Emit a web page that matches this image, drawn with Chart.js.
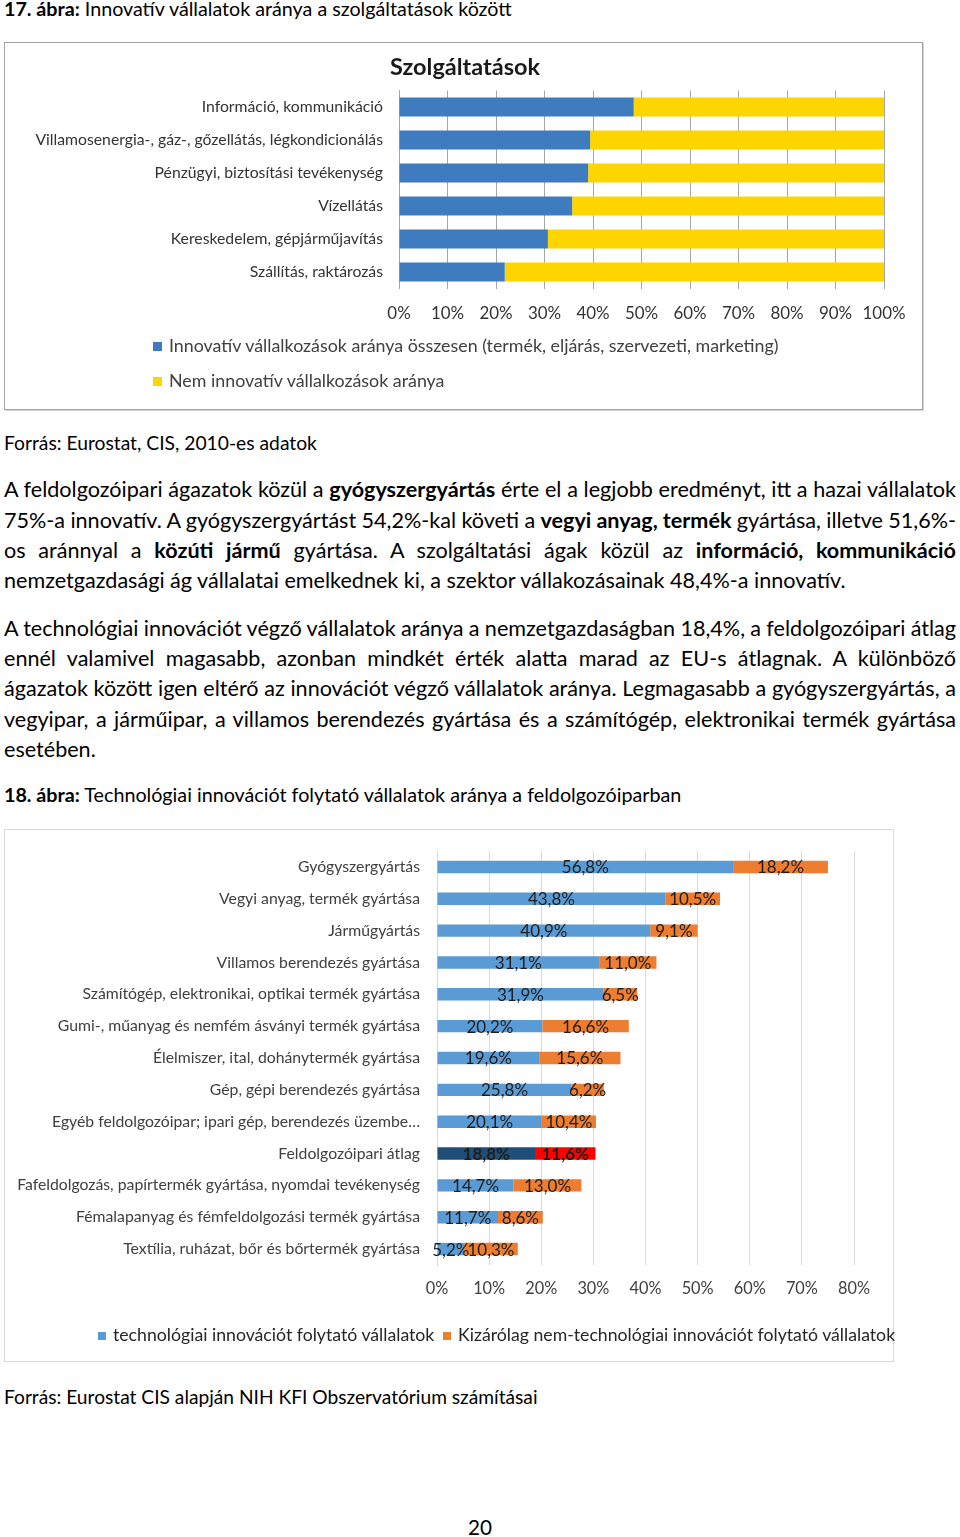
<!DOCTYPE html>
<html lang="hu"><head><meta charset="utf-8">
<script src="https://cdn.jsdelivr.net/npm/chart.js@4.4.1/dist/chart.umd.min.js"></script>
<style>
html,body{margin:0;padding:0;background:#fff;}
body{width:960px;height:1537px;position:relative;overflow:hidden;font-family:Lato,"Open Sans",sans-serif;color:#000;}
.t{position:absolute;left:4px;white-space:nowrap;line-height:30px;height:30px;}
.t b{font-weight:700;}
#box1{position:absolute;left:4px;top:42px;width:919px;height:368px;box-sizing:border-box;border:1px solid #A3A3A3;box-shadow:1px 1px 0 #D4D4D4;}
#box2{position:absolute;left:4px;top:829px;width:890px;height:533px;box-sizing:border-box;border:1px solid #D9D9D9;}
canvas{position:absolute;}
.leg{position:absolute;white-space:nowrap;color:#404040;line-height:20px;height:20px;}
.leg i{display:inline-block;vertical-align:middle;position:relative;top:-1px;}
</style></head>
<body>
<div class="t" id="cap1" style="top:-6.5px"><b>17. ábra:</b> Innovatív vállalatok aránya a szolgáltatások között</div>
<div id="box1"></div>
<canvas id="c1" width="916" height="365" style="left:5px;top:43px;width:916px;height:365px"></canvas>
<div id="leg1"></div>
<div class="t" id="src1" style="top:427.5px">Forrás: Eurostat, CIS, 2010-es adatok</div>

<div class="t pl j" style="top:473.5px">A feldolgozóipari ágazatok közül a <b>gyógyszergyártás</b> érte el a legjobb eredményt, itt a hazai vállalatok</div>
<div class="t pl j" style="top:504.5px">75%-a innovatív. A gyógyszergyártást 54,2%-kal követi a <b>vegyi anyag, termék</b> gyártása, illetve 51,6%-</div>
<div class="t pl j" style="top:534.5px">os aránnyal a <b>közúti jármű</b> gyártása. A szolgáltatási ágak közül az <b>információ, kommunikáció</b></div>
<div class="t pl" id="pref" style="top:564.5px">nemzetgazdasági ág vállalatai emelkednek ki, a szektor vállakozásainak 48,4%-a innovatív.</div>

<div class="t pl j" style="top:612.5px">A technológiai innovációt végző vállalatok aránya a nemzetgazdaságban 18,4%, a feldolgozóipari átlag</div>
<div class="t pl j" style="top:642.5px">ennél valamivel magasabb, azonban mindkét érték alatta marad az EU-s átlagnak. A különböző</div>
<div class="t pl j" style="top:672.5px">ágazatok között igen eltérő az innovációt végző vállalatok aránya. Legmagasabb a gyógyszergyártás, a</div>
<div class="t pl j" style="top:703.5px">vegyipar, a járműipar, a villamos berendezés gyártása és a számítógép, elektronikai termék gyártása</div>
<div class="t pl" style="top:733.5px">esetében.</div>

<div class="t" id="cap2" style="top:779.5px"><b>18. ábra:</b> Technológiai innovációt folytató vállalatok aránya a feldolgozóiparban</div>
<div id="box2"></div>
<canvas id="c2" width="888" height="530" style="left:5px;top:830px;width:888px;height:530px"></canvas>
<div id="leg2"></div>
<div class="t" id="src2" style="top:1381.5px">Forrás: Eurostat CIS alapján NIH KFI Obszervatórium számításai</div>
<div class="t" id="pnum" style="top:1511.5px;left:468px">20</div>

<script>
// ---------- Chart 1 data (17. ábra) ----------
const c1Title = 'Szolgáltatások';
const c1Categories = [
  'Információ, kommunikáció',
  'Villamosenergia-, gáz-, gőzellátás, légkondicionálás',
  'Pénzügyi, biztosítási tevékenység',
  'Vízellátás',
  'Kereskedelem, gépjárműjavítás',
  'Szállítás, raktározás'
];
const c1SeriesNames = [
  'Innovatív vállalkozások aránya összesen (termék, eljárás, szervezeti, marketing)',
  'Nem innovatív vállalkozások aránya'
];
const c1Innovative = [48.4, 39.4, 39.0, 35.7, 30.7, 21.8];
const c1NonInnovative = [51.6, 60.6, 61.0, 64.3, 69.3, 78.2];
const c1TickValues = [0, 10, 20, 30, 40, 50, 60, 70, 80, 90, 100];

// ---------- Chart 2 data (18. ábra) ----------
const c2Categories = [
  'Gyógyszergyártás',
  'Vegyi anyag, termék gyártása',
  'Járműgyártás',
  'Villamos berendezés gyártása',
  'Számítógép, elektronikai, optikai termék gyártása',
  'Gumi-, műanyag és nemfém ásványi termék gyártása',
  'Élelmiszer, ital, dohánytermék gyártása',
  'Gép, gépi berendezés gyártása',
  'Egyéb feldolgozóipar; ipari gép, berendezés üzembe…',
  'Feldolgozóipari átlag',
  'Fafeldolgozás, papírtermék gyártása, nyomdai tevékenység',
  'Fémalapanyag és fémfeldolgozási termék gyártása',
  'Textília, ruházat, bőr és bőrtermék gyártása'
];
const c2SeriesNames = [
  'technológiai innovációt folytató vállalatok',
  'Kizárólag nem-technológiai innovációt folytató vállalatok'
];
const c2Technological = [56.8, 43.8, 40.9, 31.1, 31.9, 20.2, 19.6, 25.8, 20.1, 18.8, 14.7, 11.7, 5.2];
const c2NonTechnological = [18.2, 10.5, 9.1, 11.0, 6.5, 16.6, 15.6, 6.2, 10.4, 11.6, 13.0, 8.6, 10.3];
const c2TickValues = [0, 10, 20, 30, 40, 50, 60, 70, 80];
const c2HighlightCategory = 'Feldolgozóipari átlag';

// ---------- colours ----------
const C1_BLUE = '#3F7CBF', C1_YELLOW = '#FFD500';
const C2_BLUE = '#5B9BD5', C2_ORANGE = '#ED7D31', C2_AVG_BLUE = '#1F4E79', C2_AVG_RED = '#FF0000';

// ---------- font fitting helpers ----------
const FONT = 'Lato';
const mc = document.createElement('canvas').getContext('2d');
function fitSize(text, weight, target) {
  mc.font = weight + ' 100px ' + FONT;
  return 100 * target / mc.measureText(text).width;
}
function fitEl(el, target) {
  el.style.fontSize = '20px';
  const w = el.getBoundingClientRect().width;
  const s = 20 * target / w;
  el.style.fontSize = s + 'px';
  return s;
}

// ---------- page text ----------
fitEl(document.getElementById('cap1'), 508);
fitEl(document.getElementById('src1'), 313);
fitEl(document.getElementById('cap2'), 678);
fitEl(document.getElementById('src2'), 534);
fitEl(document.getElementById('pnum'), 24);
const pSize = fitEl(document.getElementById('pref'), 842);
document.querySelectorAll('.pl').forEach(el => { el.style.fontSize = pSize + 'px'; });
document.querySelectorAll('.j').forEach(el => {
  const w = el.getBoundingClientRect().width;
  const spaces = (el.textContent.match(/ /g) || []).length;
  el.style.wordSpacing = ((952 - w) / spaces) + 'px';
});

// ---------- Chart 1 ----------
const f1Label = fitSize(c1Categories[1], '400', 348);
const f1Title = fitSize(c1Title, '700', 150);
const f1Tick = fitSize('100%', '400', 43);
const f1Leg = fitSize(c1SeriesNames[0], '400', 611);
// geometry (canvas coords)
const c1H = 365, c1AreaTop = 47.5, c1AreaBottom = 245.5, c1TickCenter = 271, c1TitleCenter = 24;
const c1TitlePadTop = c1TitleCenter - 0.6 * f1Title;
const c1TitlePadBottom = c1AreaTop - c1TitleCenter - 0.6 * f1Title;
const c1TickPad = c1TickCenter - c1AreaBottom - 0.6 * f1Tick;
const c1PadBottom = c1H - c1AreaBottom - (2 * c1TickPad + 1.2 * f1Tick);

// the original title is centred over the whole chart box, not over the canvas minus right padding
const titleShift = {
  id: 'titleShift',
  afterLayout(chart) {
    if (chart.titleBlock) { chart.titleBlock.left = 41; chart.titleBlock.width = chart.titleBlock.right - 41; }
  }
};

const chart1 = new Chart(document.getElementById('c1'), {
  type: 'bar',
  data: {
    labels: c1Categories,
    datasets: [
      { label: c1SeriesNames[0], data: c1Innovative, backgroundColor: C1_BLUE, barPercentage: 0.58, categoryPercentage: 1 },
      { label: c1SeriesNames[1], data: c1NonInnovative, backgroundColor: C1_YELLOW, barPercentage: 0.58, categoryPercentage: 1 }
    ]
  },
  options: {
    indexAxis: 'y', responsive: false, animation: false,
    layout: { padding: { top: 0, left: 0, right: 37, bottom: c1PadBottom } },
    plugins: {
      legend: { display: false }, tooltip: { enabled: false },
      title: { display: true, text: c1Title, color: '#1a1a1a',
        font: { family: FONT, size: f1Title, weight: 'bold' },
        padding: { top: c1TitlePadTop, bottom: c1TitlePadBottom } }
    },
    scales: {
      x: {
        stacked: true, min: 0, max: 100,
        afterBuildTicks: s => { s.ticks = c1TickValues.map(v => ({ value: v })); },
        ticks: { callback: v => v + '%', font: { family: FONT, size: f1Tick }, color: '#333333', padding: c1TickPad, maxRotation: 0 },
        grid: { color: '#A6A6A6', drawTicks: false },
        border: { display: false }
      },
      y: {
        stacked: true,
        ticks: { font: { family: FONT, size: f1Label }, color: '#333333', padding: 16 },
        grid: { display: false, drawTicks: false },
        border: { display: true, color: '#A6A6A6' },
        afterFit: s => { s.width = 394; s.paddingTop = 0; s.paddingBottom = 0; }
      }
    }
  },
  plugins: [titleShift]
});

// HTML legend for chart 1 (two rows, left aligned as in the original)
(function () {
  const host = document.getElementById('leg1');
  const rowsY = [345, 380];
  chart1.data.datasets.forEach((ds, i) => {
    const d = document.createElement('div');
    d.className = 'leg';
    d.style.left = '153px';
    d.style.top = (rowsY[i] - 10) + 'px';
    d.style.fontSize = f1Leg + 'px';
    d.innerHTML = '<i style="width:9px;height:9px;margin-right:7px;background:' + ds.backgroundColor + '"></i>';
    d.appendChild(document.createTextNode(ds.label));
    host.appendChild(d);
  });
})();

// ---------- Chart 2 ----------
const f2Label = fitSize('Fafeldolgozás, papírtermék gyártása, nyomdai tevékenység', '400', 403);
const f2Data = fitSize('56,8%', '400', 47);
const f2Tick = fitSize('10%', '400', 32);
const f2Leg = fitSize(c2SeriesNames[0], '400', 322);
const c2H = 530, c2AreaTop = 21, c2AreaBottom = 435, c2TickCenter = 459;
const c2TickPad = c2TickCenter - c2AreaBottom - 0.6 * f2Tick;
const c2PadBottom = c2H - c2AreaBottom - (2 * c2TickPad + 1.2 * f2Tick);
const avgIndex = c2Categories.indexOf(c2HighlightCategory);

const valueLabels = {
  id: 'valueLabels',
  afterDatasetsDraw(chart) {
    const ctx = chart.ctx;
    ctx.save();
    ctx.textAlign = 'center';
    ctx.textBaseline = 'middle';
    ctx.fillStyle = '#1e1e1e';
    chart.data.datasets.forEach((ds, di) => {
      chart.getDatasetMeta(di).data.forEach((el, i) => {
        ctx.font = (i === avgIndex ? '700 ' : '400 ') + f2Data + 'px ' + FONT;
        const txt = ds.data[i].toFixed(1).replace('.', ',') + '%';
        ctx.fillText(txt, (el.x + el.base) / 2, el.y + 1);
      });
    });
    ctx.restore();
  }
};

const chart2 = new Chart(document.getElementById('c2'), {
  type: 'bar',
  data: {
    labels: c2Categories,
    datasets: [
      { label: c2SeriesNames[0], data: c2Technological, legendColor: C2_BLUE,
        backgroundColor: c => (c.dataIndex === avgIndex ? C2_AVG_BLUE : C2_BLUE),
        barPercentage: 0.39, categoryPercentage: 1 },
      { label: c2SeriesNames[1], data: c2NonTechnological, legendColor: C2_ORANGE,
        backgroundColor: c => (c.dataIndex === avgIndex ? C2_AVG_RED : C2_ORANGE),
        barPercentage: 0.39, categoryPercentage: 1 }
    ]
  },
  options: {
    indexAxis: 'y', responsive: false, animation: false,
    layout: { padding: { top: c2AreaTop, left: 0, right: 39, bottom: c2PadBottom } },
    plugins: { legend: { display: false }, tooltip: { enabled: false } },
    scales: {
      x: {
        stacked: true, min: 0, max: 80,
        afterBuildTicks: s => { s.ticks = c2TickValues.map(v => ({ value: v })); },
        ticks: { callback: v => v + '%', font: { family: FONT, size: f2Tick }, color: '#404040', padding: c2TickPad, maxRotation: 0 },
        grid: { color: '#D9D9D9', drawTicks: false },
        border: { display: false }
      },
      y: {
        stacked: true,
        ticks: { font: { family: FONT, size: f2Label }, color: '#404040', padding: 17, autoSkip: false },
        grid: { display: false, drawTicks: false },
        border: { display: true, color: '#D9D9D9' },
        afterFit: s => { s.width = 432; s.paddingTop = 0; s.paddingBottom = 0; }
      }
    }
  },
  plugins: [valueLabels]
});

(function () {
  const host = document.getElementById('leg2');
  const xs = [98, 443];
  chart2.data.datasets.forEach((ds, i) => {
    const d = document.createElement('div');
    d.className = 'leg';
    d.style.left = xs[i] + 'px';
    d.style.top = (1335 - 10) + 'px';
    d.style.fontSize = f2Leg + 'px';
    d.style.color = '#262626';
    d.innerHTML = '<i style="width:8px;height:8px;margin-right:7px;background:' + ds.legendColor + '"></i>';
    d.appendChild(document.createTextNode(ds.label));
    host.appendChild(d);
  });
})();
</script>
</body></html>
